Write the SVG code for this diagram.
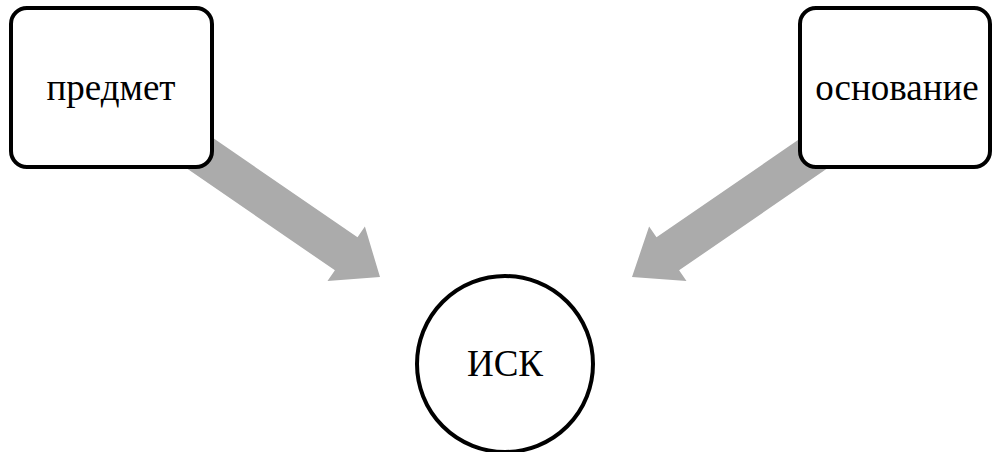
<svg xmlns="http://www.w3.org/2000/svg" width="993" height="452" viewBox="0 0 993 452">
<style>
.box{fill:#fff;stroke:#000;stroke-width:4}
.arrow{fill:#ababab;stroke:none}
.lbl{font-family:"Liberation Serif","Times New Roman",serif;font-size:37px;fill:#000;text-anchor:middle}
</style>
<rect width="993" height="452" fill="#fff"/>
<g id="connectors">
<polygon class="arrow" points="143.3,90.1 357.5,237.3 364.9,226.6 380,277 327.5,281 334.9,270.3 120.7,123.1"/>
<polygon class="arrow" points="870.7,90.1 656.5,237.3 649.1,226.6 632,277 686.5,281 679.1,270.3 893.3,123.1"/>
</g>
<g id="node-predmet">
<rect class="box" x="11" y="8" width="201" height="159" rx="16"/>
<text class="lbl" x="111" y="100">предмет</text>
</g>
<g id="node-osnovanie">
<rect class="box" x="800" y="8" width="190" height="159" rx="16"/>
<text class="lbl" x="897" y="100">основание</text>
</g>
<g id="node-isk">
<circle class="box" cx="505" cy="364" r="88"/>
<text class="lbl" x="505" y="376">ИСК</text>
</g>
</svg>
